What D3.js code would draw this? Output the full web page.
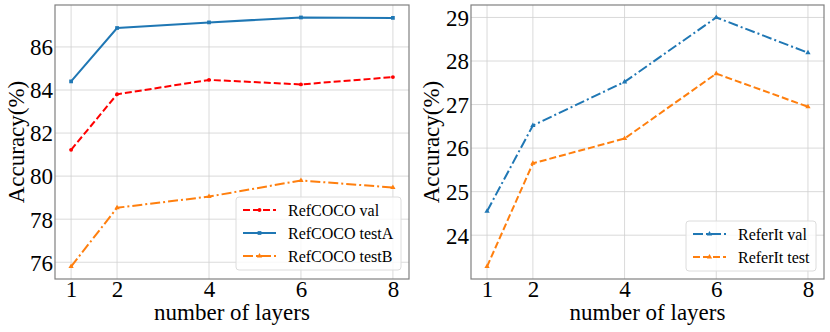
<!DOCTYPE html>
<html>
<head>
<meta charset="utf-8">
<script src="https://cdn.jsdelivr.net/npm/d3@7"></script>
<style>
  body { margin: 0; background: #fff; }
  svg text { font-family: "Liberation Serif", "Times New Roman", serif; fill: #000; }
</style>
</head>
<body>
<div id="chart"></div>
<script>
const layers = [1, 2, 4, 6, 8]

// left panel: RefCOCO
const refcocoVal = [81.22, 83.8, 84.47, 84.26, 84.6]
const refcocoTestA = [84.4, 86.88, 87.14, 87.37, 87.35]
const refcocoTestB = [75.8, 78.53, 79.05, 79.8, 79.47]
const leftTicksY = [76, 78, 80, 82, 84, 86]

// right panel: ReferIt
const referitVal = [24.55, 26.52, 27.52, 29.0, 28.19]
const referitTest = [23.28, 25.65, 26.22, 27.71, 26.95]
const rightTicksY = [24, 25, 26, 27, 28, 29]

const blue = '#1f77b4', orange = '#ff7f0e', red = '#ff0000'
const serif = '"Liberation Serif", "Times New Roman", serif'

const W = 830, H = 332
const svg = d3.select('#chart').append('svg')
    .attr('width', W)
    .attr('height', H)

function panel(opts) {
    const { left, right, top, bottom, series, yTicks, legend } = opts

    const xScale = d3.scaleLinear().domain([0.65, 8.35]).range([left, right])
    const allY = series.flatMap(s => s.values)
    const minY = d3.min(allY), maxY = d3.max(allY)
    const pad = (maxY - minY) * 0.05
    const yScale = d3.scaleLinear().domain([minY - pad, maxY + pad]).range([bottom, top])

    const g = svg.append('g')

    // grid
    g.selectAll('.gx').data(layers).enter().append('line')
        .attr('x1', d => xScale(d)).attr('x2', d => xScale(d))
        .attr('y1', top).attr('y2', bottom)
        .attr('stroke', '#d0d0d0').attr('stroke-width', 0.8)
    g.selectAll('.gy').data(yTicks).enter().append('line')
        .attr('x1', left).attr('x2', right)
        .attr('y1', d => yScale(d)).attr('y2', d => yScale(d))
        .attr('stroke', '#d0d0d0').attr('stroke-width', 0.8)

    // axes (labels only, no tick marks)
    const xAxis = g.append('g').attr('transform', `translate(0,${bottom})`)
        .call(d3.axisBottom(xScale).tickValues(layers).tickSize(0).tickFormat(d3.format('d')))
    const yAxis = g.append('g').attr('transform', `translate(${left},0)`)
        .call(d3.axisLeft(yScale).tickValues(yTicks).tickSize(0).tickFormat(d3.format('d')))
    ;[xAxis, yAxis].forEach(a => {
        a.attr('font-family', null).attr('font-size', null)
        a.select('.domain').remove()
        a.selectAll('line').remove()
        a.selectAll('text')
            .style('font-family', serif)
            .style('font-size', '23px')
    })
    xAxis.selectAll('text').attr('y', 2).attr('dy', '0.7em')
    yAxis.selectAll('text').attr('x', -2).attr('dy', '0.34em')

    // frame
    g.append('rect')
        .attr('x', left).attr('y', top)
        .attr('width', right - left).attr('height', bottom - top)
        .attr('fill', 'none').attr('stroke', '#808080').attr('stroke-width', 1.2)

    // lines
    const line = d3.line().x((d, i) => xScale(layers[i])).y(d => yScale(d))
    series.forEach(s => {
        g.append('path').datum(s.values)
            .attr('d', line)
            .attr('fill', 'none')
            .attr('stroke', s.color)
            .attr('stroke-width', 2)
            .attr('stroke-dasharray', s.dash)
        drawMarkers(g, s, s.values.map((v, i) => [xScale(layers[i]), yScale(v)]))
    })

    // axis titles
    g.append('text')
        .attr('x', (left + right) / 2).attr('y', 320)
        .attr('text-anchor', 'middle')
        .style('font-size', '23px')
        .text('number of layers')
    g.append('text')
        .attr('transform', `translate(${left + opts.ylabelDx},${(top + bottom) / 2}) rotate(-90)`)
        .attr('text-anchor', 'middle')
        .style('font-size', '23px')
        .text('Accuracy(%)')

    // legend
    const lg = g.append('g')
    lg.append('rect')
        .attr('x', legend.x).attr('y', legend.y)
        .attr('width', legend.w).attr('height', 23 * series.length + 4)
        .attr('rx', 3)
        .attr('fill', 'rgba(255,255,255,0.8)')
        .attr('stroke', '#dcdcdc')
    series.forEach((s, i) => {
        const cy = legend.y + 13 + i * 23
        lg.append('line')
            .attr('x1', legend.x + 7).attr('x2', legend.x + 40)
            .attr('y1', cy).attr('y2', cy)
            .attr('stroke', s.color).attr('stroke-width', 2)
            .attr('stroke-dasharray', s.dash)
        drawMarkers(lg, s, [[legend.x + 23.5, cy]])
        lg.append('text')
            .attr('x', legend.x + 52).attr('y', cy)
            .attr('dy', '0.35em')
            .style('font-size', '16px')
            .text(s.name)
    })
}

function drawMarkers(g, s, pts) {
    const sym = d3.symbol().type(s.marker).size(s.marker === d3.symbolSquare ? 14 : 12)
    g.selectAll(null).data(pts).enter().append('path')
        .attr('d', sym)
        .attr('transform', d => `translate(${d[0]},${d[1]})`)
        .attr('fill', s.color)
}

panel({
    left: 55, right: 409, top: 5, bottom: 279,
    ylabelDx: -31,
    yTicks: leftTicksY,
    legend: { x: 236, y: 197, w: 165 },
    series: [
        { name: 'RefCOCO val', values: refcocoVal, color: red, dash: '7,3', marker: d3.symbolCircle },
        { name: 'RefCOCO testA', values: refcocoTestA, color: blue, dash: null, marker: d3.symbolSquare },
        { name: 'RefCOCO testB', values: refcocoTestB, color: orange, dash: '10,3,2,3', marker: d3.symbolTriangle }
    ]
})

panel({
    left: 471, right: 824, top: 5, bottom: 279,
    ylabelDx: -32,
    yTicks: rightTicksY,
    legend: { x: 686, y: 221, w: 130 },
    series: [
        { name: 'ReferIt val', values: referitVal, color: blue, dash: '10,3,2,3', marker: d3.symbolTriangle },
        { name: 'ReferIt test', values: referitTest, color: orange, dash: '7,3', marker: d3.symbolTriangle }
    ]
})
</script>
</body>
</html>
